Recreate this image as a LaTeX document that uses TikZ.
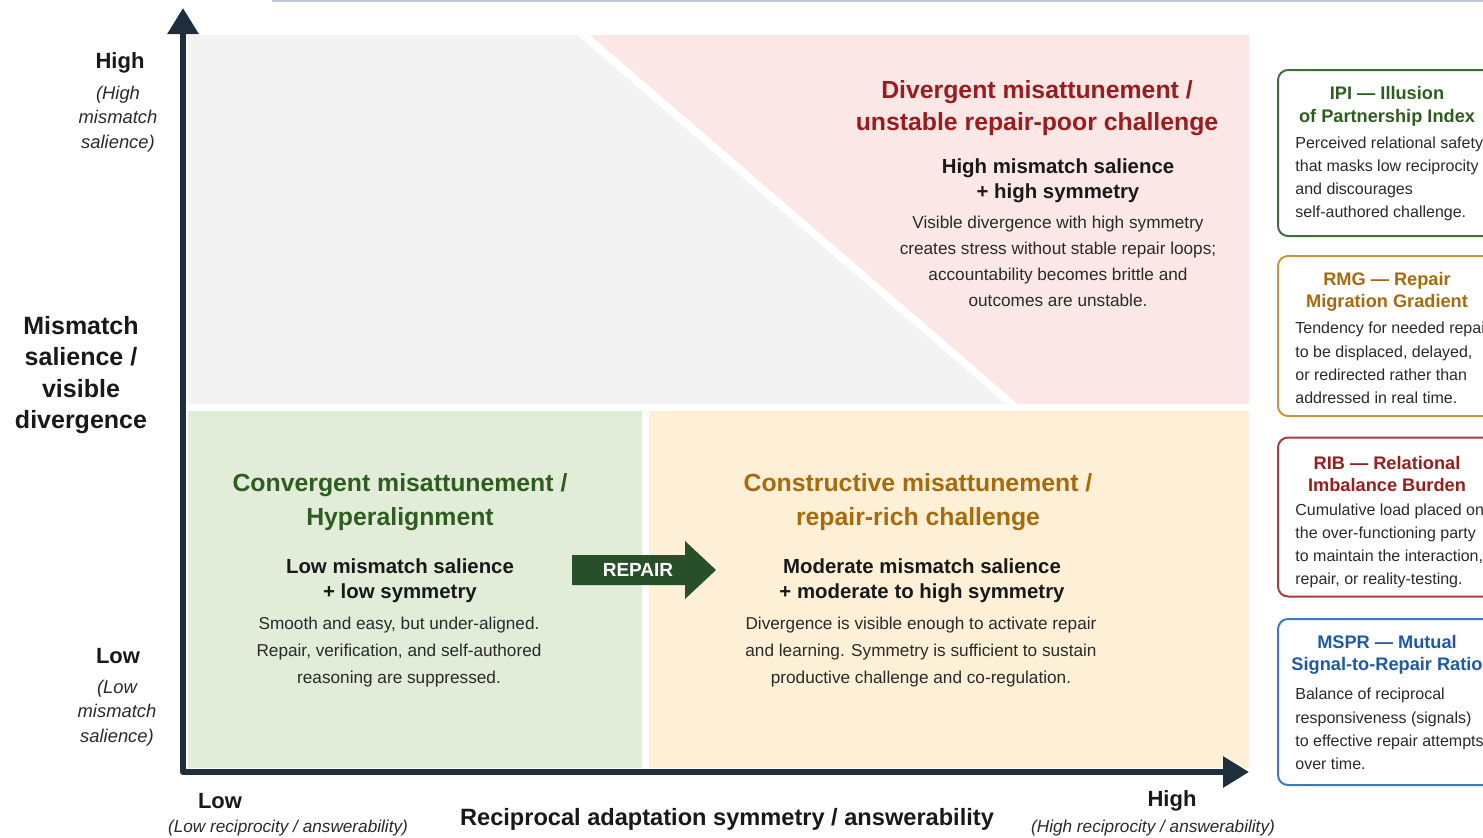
\documentclass[tikz,border=0pt]{standalone}
\usepackage{fontspec}
\setmainfont{Liberation Sans}
\usetikzlibrary{arrows.meta}
\usetikzlibrary{positioning}

\definecolor{axisC}{HTML}{1E2E3C}
\definecolor{grayR}{HTML}{F3F3F3}
\definecolor{pinkR}{HTML}{FAE7E6}
\definecolor{greenR}{HTML}{E1ECD9}
\definecolor{orangeR}{HTML}{FDF0D6}
\definecolor{divRed}{HTML}{9B1C1C}
\definecolor{convGreen}{HTML}{2F5D1F}
\definecolor{consGold}{HTML}{A86A0C}
\definecolor{repairC}{HTML}{27502A}
\definecolor{bodyC}{HTML}{2A2A2A}
\definecolor{ipiC}{HTML}{3D6E3A}
\definecolor{rmgC}{HTML}{C8953A}
\definecolor{ribC}{HTML}{A93C3C}
\definecolor{msprC}{HTML}{3D79C2}
\definecolor{msprT}{HTML}{1E5AA8}
\definecolor{topline}{HTML}{BCC6D2}

\begin{document}
\begin{tikzpicture}[x=0.5pt, y={(0pt,-0.5pt)},
	axis/.style={line width=3pt, draw=axisC, line join=round,
		{Triangle[length=13pt,width=15pt]}-{Triangle[length=13pt,width=15pt]}},
	quadtitle/.style={align=center, inner sep=0pt, font=\bfseries\fontsize{12.4}{16}\selectfont},
	quadsub/.style={align=center, inner sep=0pt, text=black!90, font=\bfseries\fontsize{10.2}{12.5}\selectfont},
	quadbody/.style={align=center, inner sep=0pt, text=bodyC, font=\fontsize{8.6}{13}\selectfont},
	lvl/.style={inner sep=0pt, text=black!90, font=\bfseries\fontsize{11}{13}\selectfont},
	lvlnote/.style={align=center, inner sep=0pt, text=bodyC, font=\itshape\fontsize{9.2}{12.2}\selectfont},
	sidebox/.style={draw, rounded corners=5pt, line width=1pt, fill=white,
		minimum width=109pt, inner sep=0pt},
	sidetitle/.style={align=center, inner sep=0pt, font=\bfseries\fontsize{9.1}{11.3}\selectfont},
	sidebody/.style={align=left, anchor=west, inner sep=0pt, text=bodyC, font=\fontsize{8}{11.6}\selectfont}]
\useasboundingbox (0,0) rectangle (1483,837);
\clip (0,0) rectangle (1483,837);
\fill[white] (0,0) rectangle (1483,837);
\draw[topline, line width=1pt] (272,1) -- (1483,1);

% quadrant fields
\fill[grayR] (188,35) -- (577,35) -- (1006,404) -- (188,404) -- cycle;
\fill[pinkR] (590,35) -- (1249,35) -- (1249,404) -- (1018,404) -- cycle;
\fill[greenR] (188,411) rectangle (642,768);
\fill[orangeR] (649,411) rectangle (1249,768);

% axes
\coordinate (ytip) at (183,8);
\coordinate (origin) at (183,772);
\coordinate (xtip) at (1249,772);
\draw[axis] (ytip) -- (origin) -- (xtip);

% y axis labels
\node[lvl] (yhigh) at (120,63) {High};
\node[lvlnote] (yhighnote) at (118,119) {(High\\mismatch\\salience)};
\node[align=center, inner sep=0pt, text=black!90, font=\bfseries\fontsize{12.5}{15.8}\selectfont]
	(ylabel) at (81,375) {Mismatch\\salience /\\visible\\divergence};
\node[lvl] (ylow) at (118,656) {Low};
\node[lvlnote] (ylownote) at (117,713) {(Low\\mismatch\\salience)};

% x axis labels
\node[lvl] (xlow) at (220,801) {Low};
\node[lvlnote, font=\itshape\fontsize{8.6}{11}\selectfont] (xlownote) at (288,828) {(Low reciprocity / answerability)};
\node[inner sep=0pt, text=black!90, font=\bfseries\fontsize{11.8}{14}\selectfont]
	(xlabel) at (727,819) {Reciprocal adaptation symmetry / answerability};
\node[lvl] (xhigh) at (1172,801) {High};
\node[lvlnote, font=\itshape\fontsize{8.6}{11}\selectfont] (xhighnote) at (1153,828) {(High reciprocity / answerability)};

% divergent (top right)
\node[quadtitle, text=divRed] (divT) at (1037,108) {Divergent misattunement /\\unstable repair-poor challenge};
\node[quadsub] (divS) at (1058,181) {High mismatch salience\\+ high symmetry};
\node[quadbody] (divB) at (1058,261) {Visible divergence with high symmetry\\creates stress without stable repair loops;\\accountability becomes brittle and\\outcomes are unstable.};

% convergent (bottom left)
\node[quadtitle, text=convGreen, font=\bfseries\fontsize{12.4}{17}\selectfont] (convT) at (400,502) {Convergent misattunement /\\Hyperalignment};
\node[quadsub] (convS) at (400,581) {Low mismatch salience\\+ low symmetry};
\node[quadbody, font=\fontsize{8.6}{13.5}\selectfont] (convB) at (399,652) {Smooth and easy, but under-aligned.\\Repair, verification, and self-authored\\reasoning are suppressed.};

% constructive (bottom right)
\node[quadtitle, text=consGold, font=\bfseries\fontsize{12.4}{17}\selectfont] (consT) at (918,502) {Constructive misattunement /\\repair-rich challenge};
\node[quadsub] (consS) at (922,581) {Moderate mismatch salience\\+ moderate to high symmetry};
\node[quadbody, font=\fontsize{8.6}{13.5}\selectfont] (consB) at (921,652) {Divergence is visible enough to activate repair\\and learning. Symmetry is sufficient to sustain\\productive challenge and co-regulation.};

% repair arrow
\fill[repairC] (572,555) -- (685,555) -- (685,541) -- (716,570) -- (685,599) -- (685,585) -- (572,585) -- cycle;
\node[inner sep=0pt, text=white, font=\bfseries\fontsize{9.5}{11}\selectfont] (repair) at (638,570) {REPAIR};

% index boxes
\node[sidebox, draw=ipiC, minimum height=83pt] (ipi) at (1387,153) {};
\node[sidetitle, text=convGreen] (ipiT) at (1387,106) {IPI — Illusion\\of Partnership Index};
\node[sidebody] (ipiB) at (1295,179) {Perceived relational safety\\that masks low reciprocity\\and discourages\\self-authored challenge.};

\node[sidebox, draw=rmgC, minimum height=80pt] (rmg) at (1387,336) {};
\node[sidetitle, text=consGold] (rmgT) at (1387,292) {RMG — Repair\\Migration Gradient};
\node[sidebody] (rmgB) at (1295,363) {Tendency for needed repair\\to be displaced, delayed,\\or redirected rather than\\addressed in real time.};

\node[sidebox, draw=ribC, minimum height=79.5pt] (rib) at (1387,517) {};
\node[sidetitle, text=divRed] (ribT) at (1387,474) {RIB — Relational\\Imbalance Burden};
\node[sidebody] (ribB) at (1295,546) {Cumulative load placed on\\the over-functioning party\\to maintain the interaction,\\repair, or reality-testing.};

\node[sidebox, draw=msprC, minimum height=83pt] (mspr) at (1387,702) {};
\node[sidetitle, text=msprT] (msprT) at (1387,655) {MSPR — Mutual\\Signal-to-Repair Ratio};
\node[sidebody] (msprB) at (1295,729) {Balance of reciprocal\\responsiveness (signals)\\to effective repair attempts\\over time.};
\end{tikzpicture}
\end{document}
